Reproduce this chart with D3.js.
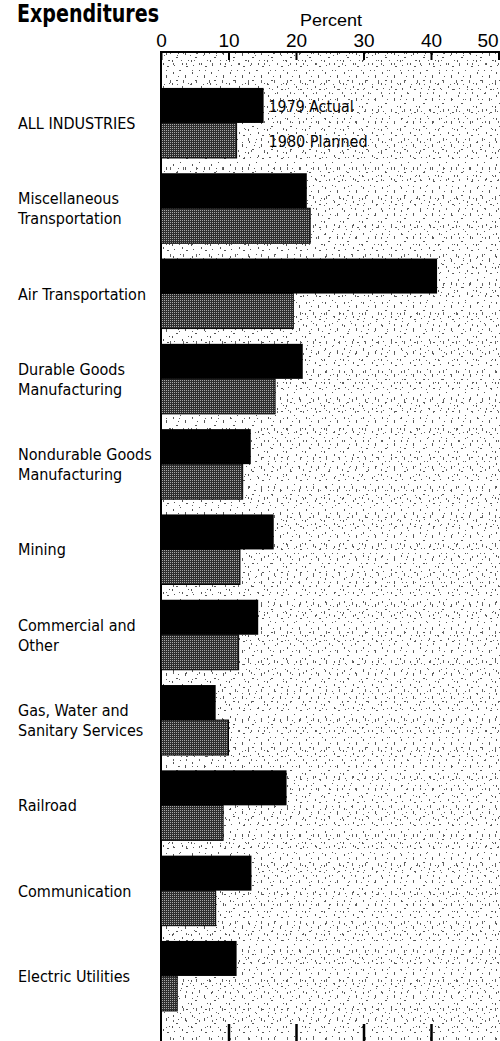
<!DOCTYPE html>
<html><head><meta charset="utf-8">
<script src="https://cdn.jsdelivr.net/npm/d3@7"></script>
<style>html,body{margin:0;padding:0;background:#fff;overflow:hidden}</style>
</head><body>
<svg id="chart" width="500" height="1041"></svg>
<script>
const categories = ["ALL INDUSTRIES","Miscellaneous\nTransportation","Air Transportation","Durable Goods\nManufacturing","Nondurable Goods\nManufacturing","Mining","Commercial and\nOther","Gas, Water and\nSanitary Services","Railroad","Communication","Electric Utilities"];
const actual1979 = [15.2,21.6,40.9,21.0,13.3,16.7,14.4,8.1,18.6,13.4,11.2];
const planned1980 = [11.2,22.1,19.6,16.9,12.1,11.7,11.5,10.0,9.2,8.1,2.4];
const seriesNames = ["1979 Actual","1980 Planned"];
const tickValues = [0,10,20,30,40,50];
const bottomTicks = [10,20,30,40];

const narrow = '"Liberation Sans Narrow","DejaVu Sans Condensed","Arial Narrow",sans-serif';
const svg = d3.select("#chart");
const W = 500, H = 1041;

const x = d3.scaleLinear().domain([0,50]).range([161,498.5]);
const y = d3.scaleBand().domain(categories).range([80.3,1018.6]).paddingInner(0.179).paddingOuter(0.0895);
const sub = d3.scaleBand().domain(seriesNames).range([0,y.bandwidth()]);

// patterns
const defs = svg.append("defs");
const sp = defs.append("pattern").attr("id","speck").attr("patternUnits","userSpaceOnUse").attr("width",19).attr("height",23);
sp.append("rect").attr("width",19).attr("height",23).attr("fill","#fff");
[[2,3,1,2],[9,1,1,1],[14,6,1,3],[5,11,2,1],[17,14,1,1],[11,17,1,2],[3,19,1,1],[7,7,1,1],[15,20,2,1],[1,14,1,2]].forEach(d=>{
  sp.append("rect").attr("x",d[0]).attr("y",d[1]).attr("width",d[2]).attr("height",d[3]).attr("fill","#555");
});
const sp2 = defs.append("pattern").attr("id","speck2").attr("patternUnits","userSpaceOnUse").attr("width",13).attr("height",29);
[[4,5,1,2],[10,12,1,1],[1,22,1,3],[8,26,1,1],[12,2,1,1]].forEach(d=>{
  sp2.append("rect").attr("x",d[0]).attr("y",d[1]).attr("width",d[2]).attr("height",d[3]).attr("fill","#666");
});
const ht = defs.append("pattern").attr("id","half").attr("patternUnits","userSpaceOnUse").attr("width",2).attr("height",2);
ht.append("rect").attr("width",2).attr("height",2).attr("fill","#2e2e2e");
ht.append("rect").attr("x",0).attr("y",0).attr("width",1).attr("height",1).attr("fill","#a8a8a8");

// background
svg.append("rect").attr("x",x(0)).attr("y",52).attr("width",W-x(0)).attr("height",H-52).attr("fill","url(#speck)");
svg.append("rect").attr("x",x(0)).attr("y",52).attr("width",W-x(0)).attr("height",H-52).attr("fill","url(#speck2)");

// title
svg.append("text").attr("x",17).attr("y",22).text("Expenditures")
  .attr("font-family",narrow).attr("font-weight","bold").attr("font-size",24)
  .attr("textLength",142).attr("lengthAdjust","spacingAndGlyphs").attr("fill","#000");
svg.append("text").attr("x",331).attr("y",26).attr("text-anchor","middle").text("Percent")
  .attr("font-family",'"Liberation Sans",Arial,sans-serif').attr("font-size",17)
  .attr("textLength",62).attr("lengthAdjust","spacingAndGlyphs").attr("fill","#000");

// top axis
const topAxis = svg.append("g").attr("transform","translate(0,52)")
  .call(d3.axisTop(x).tickValues(tickValues).tickSizeInner(-8).tickSizeOuter(0).tickPadding(5).tickFormat(d3.format("d")));
topAxis.select(".domain").remove();
topAxis.selectAll("text").attr("font-family",'"Liberation Sans",Arial,sans-serif').attr("font-size",19).attr("fill","#000")
  .attr("dx", d => d === 50 ? -11 : 0);
topAxis.selectAll("line").attr("stroke","#000").attr("stroke-width",2);

// bottom ticks
const botAxis = svg.append("g").attr("transform",`translate(0,${H})`)
  .call(d3.axisBottom(x).tickValues(bottomTicks).tickSizeInner(-17).tickSizeOuter(0).tickFormat(""));
botAxis.select(".domain").remove();
botAxis.selectAll("line").attr("stroke","#000").attr("stroke-width",2.5);

// frame lines
svg.append("line").attr("x1",x(0)-1).attr("x2",W).attr("y1",52).attr("y2",52).attr("stroke","#000").attr("stroke-width",2);
svg.append("line").attr("x1",x(0)).attr("x2",x(0)).attr("y1",51).attr("y2",H).attr("stroke","#000").attr("stroke-width",2);

// bars
const rows = categories.map((c,i)=>({c, v:[actual1979[i], planned1980[i]]}));
const g = svg.append("g");
rows.forEach(r=>{
  seriesNames.forEach((s,j)=>{
    g.append("rect")
      .attr("x",x(0)).attr("y",y(r.c)+sub(s))
      .attr("width",x(r.v[j])-x(0)).attr("height",sub.bandwidth())
      .attr("fill", j===0 ? "#000" : "url(#half)")
      .attr("stroke", j===0 ? "none" : "#000").attr("stroke-width",1);
  });
});

// legend labels next to first group
const first = categories[0];
seriesNames.forEach((s,j)=>{
  svg.append("text").attr("x",x(actual1979[0])+5).attr("y",y(first)+sub(s)+sub.bandwidth()/2+7)
    .text(s).attr("font-family",narrow).attr("font-size",16).attr("fill","#000")
    .attr("textLength", j===0?85:99).attr("lengthAdjust","spacingAndGlyphs");
});

// category labels
categories.forEach(c=>{
  const lines = c.split("\n");
  const cy = y(c) + y.bandwidth()/2;
  const lh = 20;
  const t = svg.append("text").attr("font-family",narrow).attr("font-size",16)
    .attr("fill","#000");
  lines.forEach((l,k)=>{
    t.append("tspan").attr("x",18)
      .attr("y", cy + 6 + (k - (lines.length-1)/2)*lh)
      .text(l);
  });
});
</script>
</body></html>
